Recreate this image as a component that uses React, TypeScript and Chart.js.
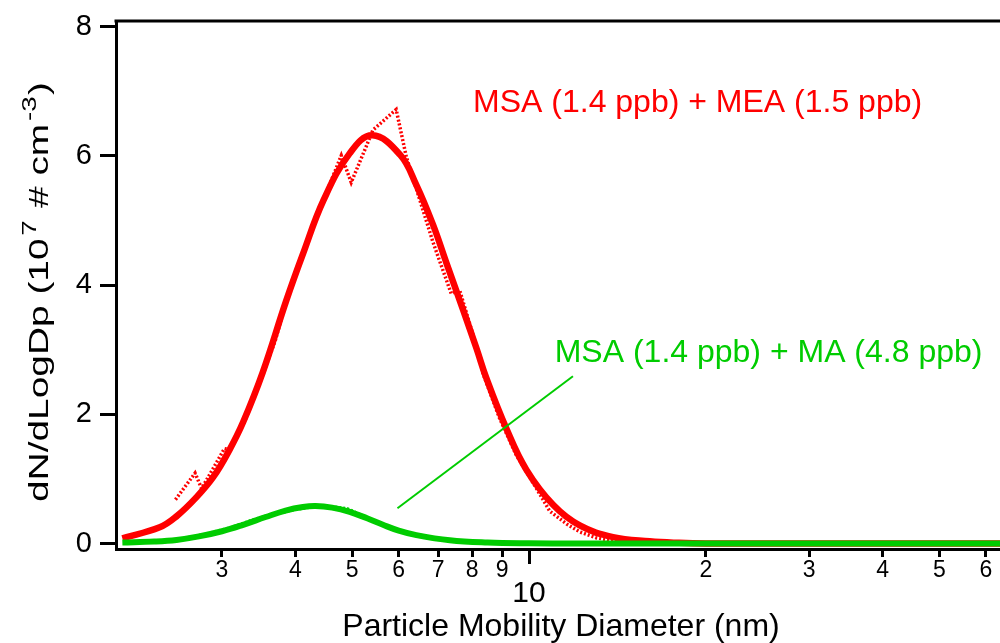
import React, { useEffect, useRef } from 'react';
import { Chart, registerables } from 'chart.js';

Chart.register(...registerables);

const FONT = '"Liberation Sans", Arial, Helvetica, sans-serif';
const RED = '#ff0000';
const GREEN = '#00cc00';

// Fitted (smooth) size distributions, 10^7 # cm^-3, vs diameter (nm)
const RED_FIT_D = [2.03, 2.35, 2.51, 2.71, 2.90, 3.09, 3.26, 3.52, 3.86, 4.12, 4.47, 4.95, 5.41, 6.03, 6.43, 6.86, 7.23, 7.72, 8.14, 8.46, 9.15, 9.90, 10.99, 12.2, 13.9, 16.05, 18.0, 20, 30, 63.4];
const RED_FIT_V = [0.08, 0.25, 0.42, 0.71, 1.03, 1.45, 1.88, 2.65, 3.76, 4.48, 5.32, 6.04, 6.32, 6.02, 5.55, 4.94, 4.35, 3.62, 3.02, 2.56, 1.78, 1.14, 0.60, 0.28, 0.10, 0.035, 0.01, 0, 0, 0];

const GREEN_FIT_D = [2.03, 2.30, 2.51, 2.74, 3.00, 3.26, 3.56, 3.85, 4.12, 4.33, 4.62, 4.95, 5.30, 5.64, 6.00, 6.43, 7.33, 8.5, 10, 12, 63.4];
const GREEN_FIT_V = [0.015, 0.03, 0.055, 0.11, 0.19, 0.29, 0.41, 0.51, 0.565, 0.58, 0.555, 0.49, 0.39, 0.29, 0.20, 0.13, 0.05, 0.015, 0.003, 0, 0];

// Measured (raw) distributions, dotted
const RED_RAW_D = [2.50, 2.70, 2.77, 3.03, 3.10, 3.30, 3.50, 3.70, 3.90, 4.10, 4.30, 4.55, 4.79, 4.98, 5.35, 5.42, 5.94, 6.18, 6.45, 6.86, 7.37, 7.62, 8.14, 8.35, 8.9, 9.5, 10.3, 10.85, 11.6, 12.2, 13.0, 13.7, 14.1];
const RED_RAW_V = [0.68, 1.09, 0.85, 1.47, 1.45, 1.95, 2.55, 3.15, 3.90, 4.45, 4.96, 5.50, 6.01, 5.59, 6.27, 6.40, 6.72, 5.99, 5.45, 4.67, 3.87, 3.92, 3.05, 2.63, 1.95, 1.38, 0.85, 0.50, 0.30, 0.18, 0.09, 0.054, 0.04];

const GREEN_RAW_D = [2.5, 2.8, 3.1, 3.4, 3.7, 4.0, 4.3, 4.6, 4.9, 5.2, 5.5, 5.9, 6.3, 6.8, 7.4, 8.0, 9.0, 10, 12, 15, 20, 30, 40, 60];
const GREEN_RAW_V = [0.05, 0.14, 0.24, 0.37, 0.46, 0.53, 0.57, 0.57, 0.54, 0.43, 0.33, 0.22, 0.14, 0.08, 0.05, 0.02, 0.01, 0.005, 0, 0, 0, 0, 0, 0];

// Leader line from the green label to the green curve
const LEADER_D = [5.97, 11.88];
const LEADER_V = [0.545, 2.59];

const X_TICKS = [3, 4, 5, 6, 7, 8, 9, 10, 20, 30, 40, 50, 60];
const X_TICK_LABELS = ['3', '4', '5', '6', '7', '8', '9', '10', '2', '3', '4', '5', '6'];
const X_MAJOR = [10];
const Y_TICKS = [0, 2, 4, 6, 8];
const X_MIN = 1.98;
const X_MAX = 63.4;
const Y_MIN = -0.085;
const Y_MAX = 8.09;

const X_TITLE = 'Particle Mobility Diameter (nm)';
const Y_TITLE_PARTS: { t: string; sup: boolean }[] = [
  { t: 'dN/dLogDp (10', sup: false },
  { t: '7', sup: true },
  { t: ' # cm', sup: false },
  { t: '-3', sup: true },
  { t: ')', sup: false },
];
const RED_LABEL = 'MSA (1.4 ppb) + MEA (1.5 ppb)';
const GREEN_LABEL = 'MSA (1.4 ppb) + MA (4.8 ppb)';
const RED_LABEL_AT = [8.03, 6.68];
const GREEN_LABEL_AT = [11.06, 2.81];

const pts = (d: number[], v: number[]) => d.map((x, i) => ({ x, y: v[i] }));

const overlay = {
  id: 'overlay',
  afterDraw(chart: any) {
    const { ctx, chartArea: a } = chart;
    const xs = chart.scales.x;
    const ys = chart.scales.y;
    ctx.save();
    ctx.strokeStyle = '#000';
    ctx.lineWidth = 3;
    ctx.lineCap = 'butt';
    ctx.beginPath();
    ctx.moveTo(a.left - 1.5, a.top);
    ctx.lineTo(a.right, a.top);
    ctx.stroke();
    X_MAJOR.forEach((v) => {
      const px = Math.round(xs.getPixelForValue(v)) + 0.5;
      ctx.beginPath();
      ctx.moveTo(px, a.bottom);
      ctx.lineTo(px, a.bottom + 15);
      ctx.stroke();
    });

    ctx.textBaseline = 'alphabetic';
    ctx.textAlign = 'left';
    ctx.font = `32px ${FONT}`;
    ctx.fillStyle = RED;
    ctx.fillText(RED_LABEL, xs.getPixelForValue(RED_LABEL_AT[0]), ys.getPixelForValue(RED_LABEL_AT[1]));
    ctx.fillStyle = GREEN;
    ctx.fillText(GREEN_LABEL, xs.getPixelForValue(GREEN_LABEL_AT[0]), ys.getPixelForValue(GREEN_LABEL_AT[1]));

    ctx.fillStyle = '#000';
    ctx.textAlign = 'center';
    ctx.font = `32px ${FONT}`;
    ctx.fillText(X_TITLE, 561, 636);

    // y title, rotated
    const big = `28px ${FONT}`;
    const small = `20px ${FONT}`;
    let total = 0;
    Y_TITLE_PARTS.forEach((p) => {
      ctx.font = p.sup ? small : big;
      total += ctx.measureText(p.t).width + (p.sup ? 3 : 0);
    });
    const target = 420;
    ctx.translate(48, 292);
    ctx.rotate(-Math.PI / 2);
    ctx.scale(target / total, 1);
    ctx.textAlign = 'left';
    let cx = -total / 2;
    Y_TITLE_PARTS.forEach((p) => {
      ctx.font = p.sup ? small : big;
      ctx.fillText(p.t, cx + (p.sup ? 2 : 0), p.sup ? -12 : 0);
      cx += ctx.measureText(p.t).width + (p.sup ? 3 : 0);
    });
    ctx.restore();
  },
};

export default function App() {
  const ref = useRef<HTMLCanvasElement | null>(null);
  useEffect(() => {
    if (!ref.current) return;
    const chart = new Chart(ref.current, {
      type: 'line',
      data: {
        datasets: [
          {
            label: 'MSA + MA fit',
            data: pts(GREEN_FIT_D, GREEN_FIT_V),
            borderColor: GREEN,
            borderWidth: 6,
            pointRadius: 0,
            tension: 0.4,
            fill: false,
          },
          {
            label: 'leader',
            data: pts(LEADER_D, LEADER_V),
            borderColor: GREEN,
            borderWidth: 2,
            pointRadius: 0,
            fill: false,
          },
          {
            label: 'MSA + MA data',
            data: pts(GREEN_RAW_D, GREEN_RAW_V),
            borderColor: GREEN,
            borderWidth: 3.5,
            borderDash: [2, 2],
            pointRadius: 0,
            fill: false,
          },
          {
            label: 'MSA + MEA fit',
            data: pts(RED_FIT_D, RED_FIT_V),
            borderColor: RED,
            borderWidth: 6.5,
            pointRadius: 0,
            tension: 0.4,
            fill: false,
          },
          {
            label: 'MSA + MEA data',
            data: pts(RED_RAW_D, RED_RAW_V),
            borderColor: RED,
            borderWidth: 3.5,
            borderDash: [2, 2],
            pointRadius: 0,
            fill: false,
          },
        ],
      },
      options: {
        animation: false,
        responsive: false,
        devicePixelRatio: 1,
        layout: { padding: { top: 21, right: 0, bottom: 0, left: 0 } },
        plugins: { legend: { display: false }, tooltip: { enabled: false }, title: { display: false } },
        events: [],
        scales: {
          x: {
            type: 'logarithmic',
            min: X_MIN,
            max: X_MAX,
            afterBuildTicks: (s: any) => {
              s.ticks = X_TICKS.map((v) => ({ value: v }));
            },
            afterFit: (s: any) => {
              s.height = 94;
              s.paddingLeft = 0;
              s.paddingRight = 0;
            },
            ticks: {
              autoSkip: false,
              maxRotation: 0,
              minRotation: 0,
              padding: 0,
              color: '#000',
              callback: (value: any, index: number) =>
                X_MAJOR.includes(Number(value)) ? ['', X_TICK_LABELS[index]] : X_TICK_LABELS[index],
              font: (c: any) =>
                c.tick && X_MAJOR.includes(c.tick.value)
                  ? { family: FONT, size: 30, lineHeight: 0.82 }
                  : { family: FONT, size: 23, lineHeight: 1.2 },
            },
            grid: { drawOnChartArea: false, drawTicks: true, tickLength: 8, tickWidth: 3, tickColor: '#000' },
            border: { display: true, color: '#000', width: 3 },
          },
          y: {
            type: 'linear',
            min: Y_MIN,
            max: Y_MAX,
            afterBuildTicks: (s: any) => {
              s.ticks = Y_TICKS.map((v) => ({ value: v }));
            },
            afterFit: (s: any) => {
              s.width = 116;
              s.paddingTop = 0;
              s.paddingBottom = 0;
            },
            ticks: { padding: 8, color: '#000', font: { family: FONT, size: 29 } },
            grid: { drawOnChartArea: false, drawTicks: true, tickLength: 16, tickWidth: 3, tickColor: '#000' },
            border: { display: true, color: '#000', width: 3 },
          },
        },
      },
      plugins: [overlay],
    } as any);
    return () => chart.destroy();
  }, []);
  return (
    <div style={{ position: 'absolute', left: 0, top: 0, width: 1000, height: 643, background: '#fff' }}>
      <canvas ref={ref} width={1000} height={643} style={{ display: 'block' }} />
    </div>
  );
}
